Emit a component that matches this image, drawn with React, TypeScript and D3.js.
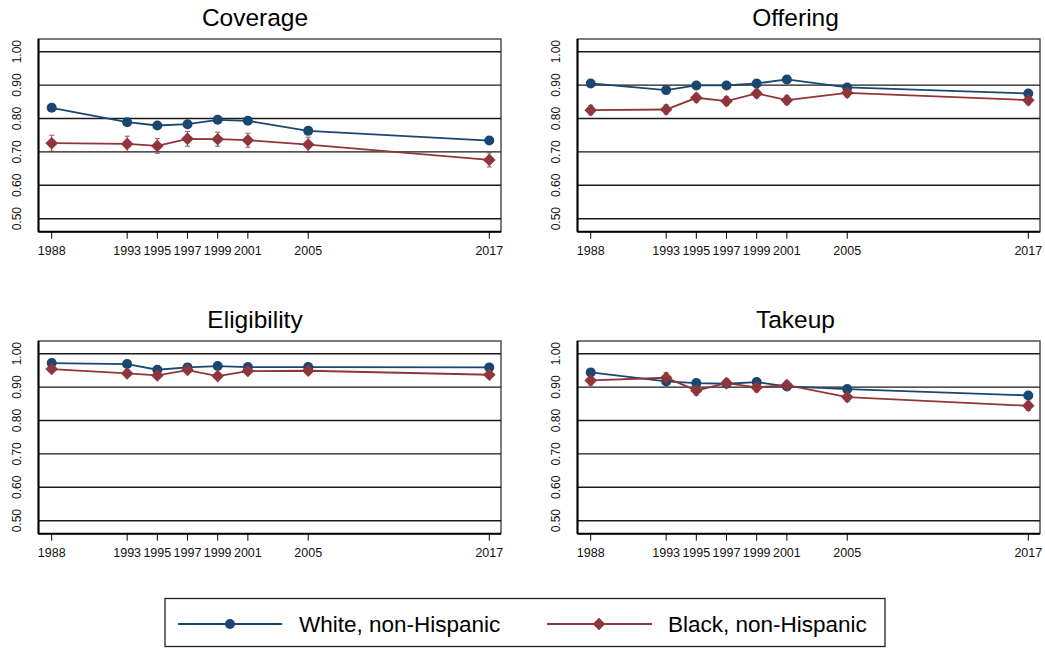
import React from "react";
import * as d3 from "d3";

// Survey years shown on every panel
const years = [1988, 1993, 1995, 1997, 1999, 2001, 2005, 2017];
const yTicks = [0.5, 0.6, 0.7, 0.8, 0.9, 1.0];

// Coverage
const coverageWhite = [0.832, 0.789, 0.779, 0.783, 0.796, 0.793, 0.763, 0.734];
const coverageWhiteErr = [0.006, 0.006, 0.006, 0.006, 0.006, 0.006, 0.006, 0.005];
const coverageBlack = [0.726, 0.724, 0.718, 0.739, 0.738, 0.735, 0.722, 0.676];
const coverageBlackErr = [0.024, 0.023, 0.022, 0.022, 0.021, 0.021, 0.022, 0.021];

// Offering
const offeringWhite = [0.905, 0.885, 0.899, 0.899, 0.905, 0.917, 0.893, 0.875];
const offeringWhiteErr = [0.005, 0.005, 0.005, 0.005, 0.005, 0.005, 0.005, 0.004];
const offeringBlack = [0.825, 0.827, 0.862, 0.852, 0.875, 0.855, 0.877, 0.855];
const offeringBlackErr = [0.014, 0.014, 0.013, 0.013, 0.013, 0.013, 0.013, 0.014];

// Eligibility
const eligibilityWhite = [0.972, 0.969, 0.952, 0.959, 0.963, 0.960, 0.960, 0.959];
const eligibilityWhiteErr = [0.003, 0.003, 0.003, 0.003, 0.003, 0.003, 0.003, 0.003];
const eligibilityBlack = [0.954, 0.941, 0.935, 0.951, 0.933, 0.948, 0.949, 0.937];
const eligibilityBlackErr = [0.008, 0.008, 0.008, 0.008, 0.008, 0.008, 0.008, 0.008];

// Takeup
const takeupWhite = [0.944, 0.917, 0.912, 0.910, 0.915, 0.902, 0.894, 0.875];
const takeupWhiteErr = [0.006, 0.006, 0.006, 0.006, 0.006, 0.006, 0.005, 0.005];
const takeupBlack = [0.920, 0.928, 0.890, 0.912, 0.899, 0.906, 0.870, 0.844];
const takeupBlackErr = [0.014, 0.015, 0.014, 0.013, 0.013, 0.012, 0.013, 0.014];

const seriesNames = ["White, non-Hispanic", "Black, non-Hispanic"];

const NAVY = "#1a476f";
const MAROON = "#90353b";
const FONT = "'Liberation Sans', Arial, Helvetica, sans-serif";

type Panel = {
  title: string;
  white: number[];
  whiteErr: number[];
  black: number[];
  blackErr: number[];
  col: number;
  row: number;
};

const panels: Panel[] = [
  { title: "Coverage", white: coverageWhite, whiteErr: coverageWhiteErr, black: coverageBlack, blackErr: coverageBlackErr, col: 0, row: 0 },
  { title: "Offering", white: offeringWhite, whiteErr: offeringWhiteErr, black: offeringBlack, blackErr: offeringBlackErr, col: 1, row: 0 },
  { title: "Eligibility", white: eligibilityWhite, whiteErr: eligibilityWhiteErr, black: eligibilityBlack, blackErr: eligibilityBlackErr, col: 0, row: 1 },
  { title: "Takeup", white: takeupWhite, whiteErr: takeupWhiteErr, black: takeupBlack, blackErr: takeupBlackErr, col: 1, row: 1 },
];

// Panel layout
const colLeft = [38.5, 577.5];
const rowTop = [39, 341];
const boxW = 462.5;
const boxH = 192.7;
const titleX = [255, 795.5];

function diamondPath(cx: number, cy: number, r: number) {
  return `M${cx},${cy - r}L${cx + r},${cy}L${cx},${cy + r}L${cx - r},${cy}Z`;
}

function PanelView({ p }: { p: Panel }) {
  const L = colLeft[p.col];
  const T = rowTop[p.row];
  const x = d3.scaleLinear().domain([1988, 2017]).range([L + 13.2, L + 450.8]);
  const y = d3.scaleLinear().domain([0.5, 1.0]).range([T + 179.7, T + 12.7]);
  const line = d3
    .line<number>()
    .x((_, i) => x(years[i]))
    .y((d) => y(d));

  const errBars = (vals: number[], errs: number[], color: string) =>
    vals.map((v, i) => {
      const cx = x(years[i]);
      const y1 = y(v + errs[i]);
      const y2 = y(v - errs[i]);
      return (
        <g key={i} stroke={color} strokeWidth={1.1} opacity={0.8}>
          <line x1={cx} x2={cx} y1={y1} y2={y2} />
          <line x1={cx - 2.5} x2={cx + 2.5} y1={y1} y2={y1} />
          <line x1={cx - 2.5} x2={cx + 2.5} y1={y2} y2={y2} />
        </g>
      );
    });

  return (
    <g>
      <text
        x={titleX[p.col]}
        y={T - 13}
        textAnchor="middle"
        fontSize={24.5}
        fontFamily={FONT}
        fill="#000"
      >
        {p.title}
      </text>
      {/* plot frame */}
      <rect x={L} y={T} width={boxW} height={boxH} fill="#fff" stroke="#444" strokeWidth={1.4} />
      {/* gridlines */}
      {yTicks.map((t) => (
        <line key={t} x1={L} x2={L + boxW} y1={y(t)} y2={y(t)} stroke="#1a1a1a" strokeWidth={1.4} />
      ))}
      {/* y axis and x axis lines */}
      <line x1={L} x2={L} y1={T} y2={T + boxH} stroke="#000" strokeWidth={2} />
      <line x1={L} x2={L + boxW} y1={T + boxH} y2={T + boxH} stroke="#000" strokeWidth={2} />
      {/* y tick labels */}
      {yTicks.map((t) => (
        <text
          key={t}
          transform={`translate(${L - 18},${y(t)}) rotate(-90)`}
          textAnchor="middle"
          fontSize={12}
          fontFamily={FONT}
          fill="#111"
        >
          {d3.format(".2f")(t)}
        </text>
      ))}
      {/* x ticks and labels */}
      {years.map((yr) => (
        <g key={yr}>
          <line x1={x(yr)} x2={x(yr)} y1={T + boxH} y2={T + boxH + 7} stroke="#000" strokeWidth={1} />
          <text
            x={x(yr)}
            y={T + boxH + 23}
            textAnchor="middle"
            fontSize={12.5}
            fontFamily={FONT}
            fill="#111"
          >
            {yr}
          </text>
        </g>
      ))}
      {/* confidence intervals */}
      {errBars(p.white, p.whiteErr, NAVY)}
      {errBars(p.black, p.blackErr, MAROON)}
      {/* white series */}
      <path d={line(p.white) || ""} fill="none" stroke={NAVY} strokeWidth={1.8} />
      {p.white.map((v, i) => (
        <circle key={i} cx={x(years[i])} cy={y(v)} r={5} fill={NAVY} />
      ))}
      {/* black series */}
      <path d={line(p.black) || ""} fill="none" stroke={MAROON} strokeWidth={1.8} />
      {p.black.map((v, i) => (
        <path key={i} d={diamondPath(x(years[i]), y(v), 6.3)} fill={MAROON} />
      ))}
    </g>
  );
}

export default function App() {
  return (
    <svg
      width={1045}
      height={648}
      style={{ position: "absolute", left: 0, top: 0, background: "#fff" }}
    >
      <rect x={0} y={0} width={1045} height={648} fill="#fff" />
      {panels.map((p) => (
        <PanelView key={p.title} p={p} />
      ))}
      {/* legend */}
      <g>
        <rect x={165} y={598.5} width={720} height={48} fill="#fff" stroke="#222" strokeWidth={1.3} />
        <line x1={178} x2={282} y1={624} y2={624} stroke={NAVY} strokeWidth={1.8} />
        <circle cx={230} cy={624} r={5} fill={NAVY} />
        <text x={299} y={632} fontSize={22.5} fontFamily={FONT} fill="#000">
          {seriesNames[0]}
        </text>
        <line x1={547} x2={652} y1={624} y2={624} stroke={MAROON} strokeWidth={1.8} />
        <path d={diamondPath(599, 624, 6.3)} fill={MAROON} />
        <text x={668} y={632} fontSize={22.5} fontFamily={FONT} fill="#000">
          {seriesNames[1]}
        </text>
      </g>
    </svg>
  );
}
